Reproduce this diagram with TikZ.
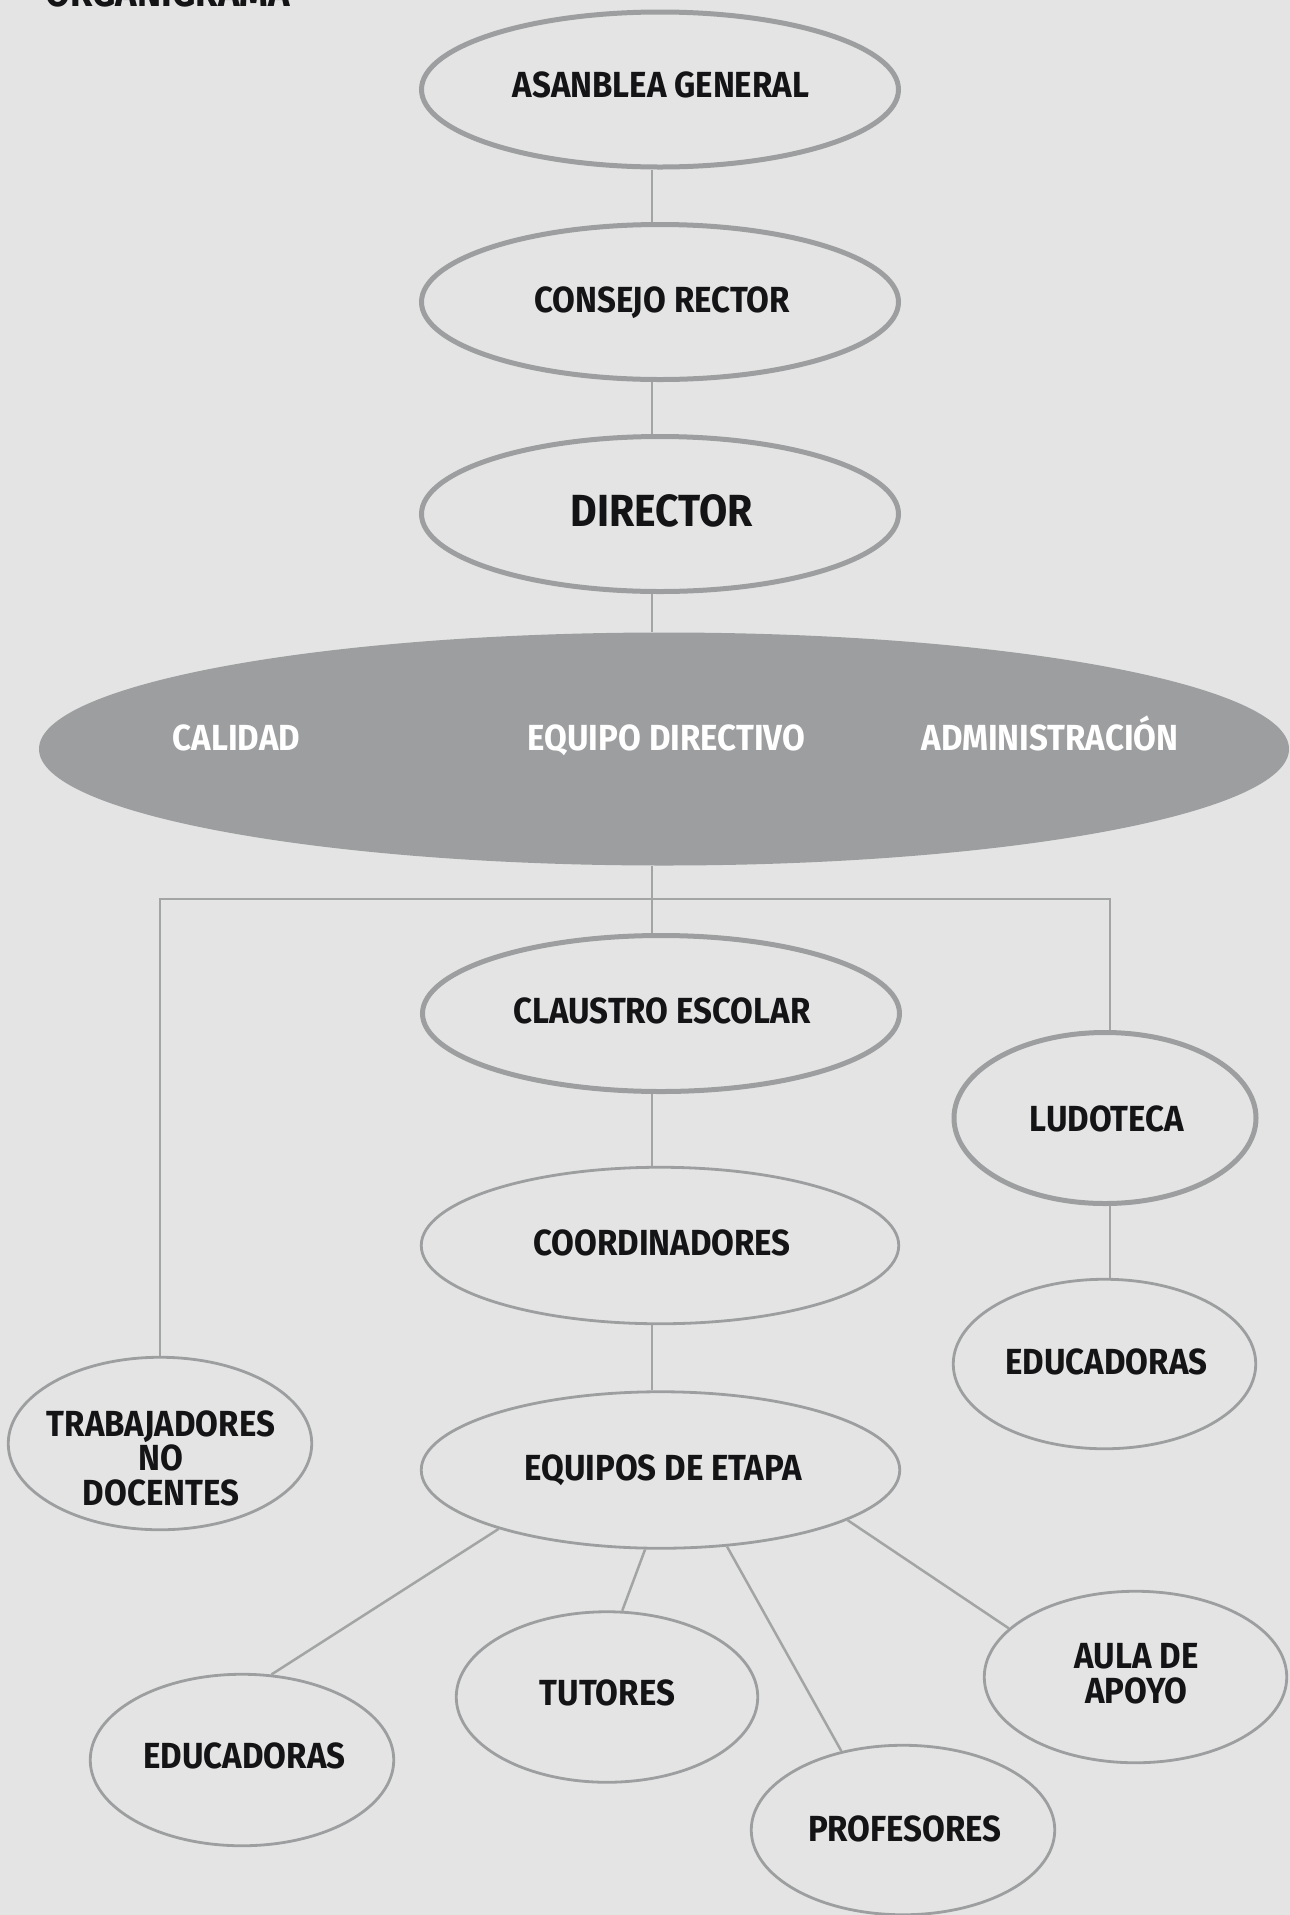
\documentclass[tikz,border=0pt]{standalone}
\usepackage{fontspec}
\setmainfont{Fira Sans}
\newfontfamily\lblfam{Fira Sans}[FakeStretch=0.91]
\usetikzlibrary{shapes.geometric}
\definecolor{bg}{HTML}{E3E4E3}
\definecolor{edge}{HTML}{9D9E9F}
\definecolor{conn}{HTML}{A3A4A4}
\definecolor{txt}{HTML}{141416}
\newcommand\lblfont{\lblfam\bfseries\fontsize{36.3}{34.5}\selectfont}
\newcommand\bigfont{\lblfam\bfseries\fontsize{45}{45}\selectfont}
\tikzset{
  thickell/.style={ellipse, draw=edge, line width=5pt, inner sep=0pt},
  thinell/.style={ellipse, draw=edge, line width=2.8pt, inner sep=0pt},
  lbl/.style={font=\lblfont, text=txt, align=center, inner sep=0pt, anchor=base},
  wlbl/.style={font=\lblfont, text=white, inner sep=0pt, anchor=base},
  conn/.style={draw=conn, line width=2.5pt},
}
\begin{document}
\begin{tikzpicture}[x=1pt,y=-1pt]
\fill[bg] (0,0) rectangle (1290,1915);
\useasboundingbox (0,0) rectangle (1290,1915);
\clip (0,0) rectangle (1290,1915);

\node[font=\lblfam\bfseries\fontsize{40}{40}\selectfont, text=txt, anchor=base west, inner sep=0pt] (title) at (45,6) {ORGANIGRAMA};

\coordinate (vx) at (652,0);
\coordinate (bl) at (160,899);
\coordinate (br) at (1110,899);

% ellipses
\node[thickell, minimum width=477pt, minimum height=155pt] (ag) at (660,89.5) {};
\node[thickell, minimum width=477pt, minimum height=155pt] (cr) at (660,302) {};
\node[thickell, minimum width=477pt, minimum height=155pt] (dir) at (660,514) {};
\node[ellipse, fill=edge, inner sep=0pt, minimum width=1250pt, minimum height=233pt] (big) at (664,749) {};
\node[thickell, minimum width=477pt, minimum height=156pt] (cla) at (661,1013.5) {};
\node[thickell, minimum width=302pt, minimum height=171pt] (ludo) at (1105,1118) {};
\node[thinell, minimum width=477.5pt, minimum height=156.5pt] (coord) at (660,1245.5) {};
\node[thinell, minimum width=302.5pt, minimum height=169.5pt] (edr) at (1104.5,1364) {};
\node[thinell, minimum width=303.5pt, minimum height=172.5pt] (trab) at (160,1443.5) {};
\node[thinell, minimum width=478.5pt, minimum height=156.5pt] (eq) at (660.5,1470) {};
\node[thinell, minimum width=303.5pt, minimum height=171.5pt] (edl) at (242,1760) {};
\node[thinell, minimum width=301.5pt, minimum height=170.5pt] (tut) at (607,1697) {};
\node[thinell, minimum width=303.5pt, minimum height=169.5pt] (prof) at (903,1830) {};
\node[thinell, minimum width=302.5pt, minimum height=171.5pt] (aula) at (1135.5,1677) {};

% texts
\node[lbl] (ag-t) at (661,97) {ASANBLEA GENERAL};
\node[lbl] (cr-t) at (662,312) {CONSEJO RECTOR};
\node[lbl, font=\bigfont] (dir-t) at (662,526) {DIRECTOR};
\node[wlbl] (cal-t) at (236.5,750) {CALIDAD};
\node[wlbl] (ed-t) at (666.5,750) {EQUIPO DIRECTIVO};
\node[wlbl] (adm-t) at (1050,750) {ADMINISTRACIÓN};
\node[lbl] (cla-t) at (662,1023.5) {CLAUSTRO ESCOLAR};
\node[lbl] (ludo-t) at (1107,1131.6) {LUDOTECA};
\node[lbl] (coord-t) at (662,1255.5) {COORDINADORES};
\node[lbl] (edr-t) at (1106.5,1374.6) {EDUCADORAS};
\node[lbl] (trab-t) at (161,1505) {TRABAJADORES\\NO\\DOCENTES};
\node[lbl] (eq-t) at (663,1480) {EQUIPOS DE ETAPA};
\node[lbl] (edl-t) at (244.5,1768) {EDUCADORAS};
\node[lbl] (tut-t) at (607.5,1705) {TUTORES};
\node[lbl] (prof-t) at (905,1841) {PROFESORES};
\node[lbl] (aula-t) at (1136.5,1703) {AULA DE\\APOYO};

% connectors
\draw[conn] (ag.south -| vx) -- (cr.north -| vx);
\draw[conn] (cr.south -| vx) -- (dir.north -| vx);
\draw[conn] (dir.south -| vx) -- (big.north -| vx);
\draw[conn] (big.south -| vx) -- (cla.north -| vx);
\draw[conn] (trab.north -| bl) -- (bl) -- (br) -- (ludo.north -| br);
\draw[conn] (cla.south -| vx) -- (coord.north -| vx);
\draw[conn] (coord.south -| vx) -- (eq.north -| vx);
\draw[conn] (ludo.south -| br) -- (edr.north -| br);
\draw[conn] (eq.200) -- (edl.71);
\draw[conn] (eq.259) -- (tut.80);
\draw[conn] (eq.311) -- (prof.128);
\draw[conn] (eq.345) -- (aula.159);
\end{tikzpicture}
\end{document}
